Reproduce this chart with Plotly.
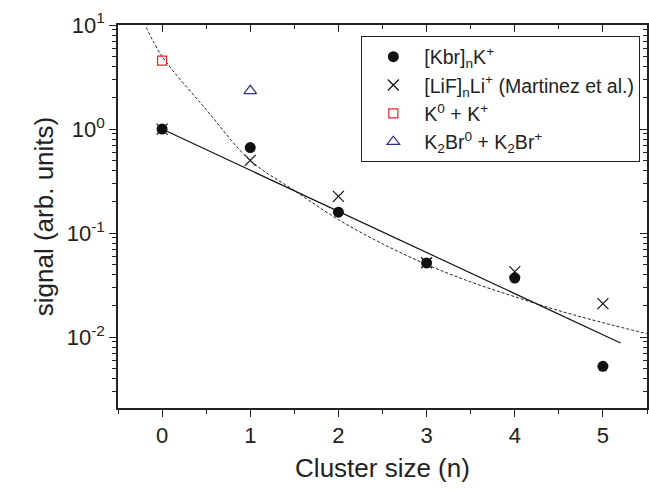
import plotly.graph_objects as go

# ---- data ----
n_kbr = [0, 1, 2, 3, 4, 5]
kbr_signal = [1.0, 0.665, 0.159, 0.0517, 0.037, 0.00526]

n_lif = [0, 1, 2, 3, 4, 5]
lif_signal = [1.0, 0.50, 0.226, 0.052, 0.0427, 0.021]

n_k = [0]
k_signal = [4.55]

n_k2br = [1]
k2br_signal = [2.33]

# exponential fit line (straight on log axis) end points
fit_x = [0, 5.2]
fit_y = [1.0, 0.0088]

# dashed model curve
curve_x = [-0.18, 0, 0.5, 1, 1.5, 2, 2.5, 3, 3.5, 4, 4.5, 5, 5.5]
curve_y = [9.5, 5.0, 1.54, 0.50, 0.257, 0.135, 0.079, 0.050, 0.034, 0.0245, 0.018, 0.0138, 0.0108]

x_ticks = [0, 1, 2, 3, 4, 5]
x_minor = [-0.5, 0.5, 1.5, 2.5, 3.5, 4.5, 5.5]
y_tickvals = [0.01, 0.1, 1, 10]
y_ticktext = ["10<sup>-2</sup>", "10<sup>-1</sup>", "10<sup>0</sup>", "10<sup>1</sup>"]
y_minor = [m * 10 ** e for e in (-3, -2, -1, 0) for m in range(2, 10)]

FONT = "Liberation Sans, Arial, sans-serif"

fig = go.Figure()

fig.add_trace(go.Scatter(x=curve_x, y=curve_y, mode="lines", line=dict(color="#222", width=1, dash="3px,2px", shape="spline"),
                         showlegend=False, hoverinfo="skip"))
fig.add_trace(go.Scatter(x=fit_x, y=fit_y, mode="lines", line=dict(color="#111", width=1.2),
                         showlegend=False, hoverinfo="skip"))

fig.add_trace(go.Scatter(x=n_kbr, y=kbr_signal, mode="markers", name="[Kbr]<sub>n</sub>K<sup>+</sup>", legendgroup="a",
                         marker=dict(symbol="circle", size=11, color="#111")))
fig.add_trace(go.Scatter(x=n_lif, y=lif_signal, mode="markers", name="[LiF]<sub>n</sub>Li<sup>+</sup> (Martinez et al.)",
                         legendgroup="b",
                         marker=dict(symbol="x-thin-open", size=11, color="#111", line=dict(width=1.2, color="#111"))))
fig.add_trace(go.Scatter(x=n_k, y=k_signal, mode="markers", name="K<sup>0</sup> + K<sup>+</sup>", legendgroup="c",
                         marker=dict(symbol="square-open", size=9, color="#e8202a", line=dict(width=1.2))))
fig.add_trace(go.Scatter(x=n_k2br, y=k2br_signal, mode="markers", name="K<sub>2</sub>Br<sup>0</sup> + K<sub>2</sub>Br<sup>+</sup>",
                         legendgroup="d",
                         marker=dict(symbol="triangle-up-open", size=11, color="#2b2f8f", line=dict(width=1.2))))

# dummy trace for mirrored (inside) ticks on top/right
fig.add_trace(go.Scatter(x=[None], y=[None], xaxis="x2", yaxis="y2", showlegend=False, hoverinfo="skip"))

xr = [-0.5, 5.5]
yr = [-2.68, 1]

fig.update_layout(
    width=649, height=490,
    margin=dict(l=118, r=2, t=25, b=82),
    paper_bgcolor="white", plot_bgcolor="white",
    font=dict(family=FONT, color="#222", size=22),
    showlegend=True,
    legend=dict(x=0.46, y=0.97, xanchor="left", yanchor="top", traceorder="grouped",
                bordercolor="#222", borderwidth=1, bgcolor="white",
                font=dict(size=19.5, family=FONT), tracegroupgap=0, itemsizing="trace", itemwidth=52),
    xaxis=dict(range=xr, tickvals=x_ticks, ticks="outside", ticklen=7, tickwidth=1.3, tickcolor="#222",
               showline=True, linecolor="#222", linewidth=1.5, showgrid=False, zeroline=False,
               minor=dict(tickvals=x_minor, ticks="outside", ticklen=4, tickwidth=1.2, tickcolor="#222"),
               title=dict(text="Cluster size (n)", font=dict(size=26), standoff=12),
               tickfont=dict(size=22)),
    yaxis=dict(type="log", range=yr, tickvals=y_tickvals, ticktext=y_ticktext, ticks="outside", ticklen=7,
               tickwidth=1.3, tickcolor="#222",
               showline=True, linecolor="#222", linewidth=1.5, showgrid=False, zeroline=False,
               minor=dict(tickvals=y_minor, ticks="outside", ticklen=4, tickwidth=1, tickcolor="#222"),
               title=dict(text="signal (arb. units)", font=dict(size=26), standoff=6),
               tickfont=dict(size=22)),
    xaxis2=dict(range=xr, overlaying="x", side="top", anchor="y2", tickvals=x_ticks, ticks="inside", ticklen=7,
                tickwidth=1.3, tickcolor="#222", showticklabels=False, showline=True, linecolor="#222", linewidth=1.5,
                showgrid=False, zeroline=False,
                minor=dict(tickvals=x_minor, ticks="inside", ticklen=4, tickwidth=1.2, tickcolor="#222")),
    yaxis2=dict(type="log", range=yr, overlaying="y", side="right", anchor="x2", tickvals=y_tickvals, ticks="inside",
                ticklen=7, tickwidth=1.3, tickcolor="#222", showticklabels=False, showline=True, linecolor="#222",
                linewidth=1.5, showgrid=False, zeroline=False,
                minor=dict(tickvals=y_minor, ticks="inside", ticklen=4, tickwidth=1, tickcolor="#222")),
)

fig.write_html("out.html")
